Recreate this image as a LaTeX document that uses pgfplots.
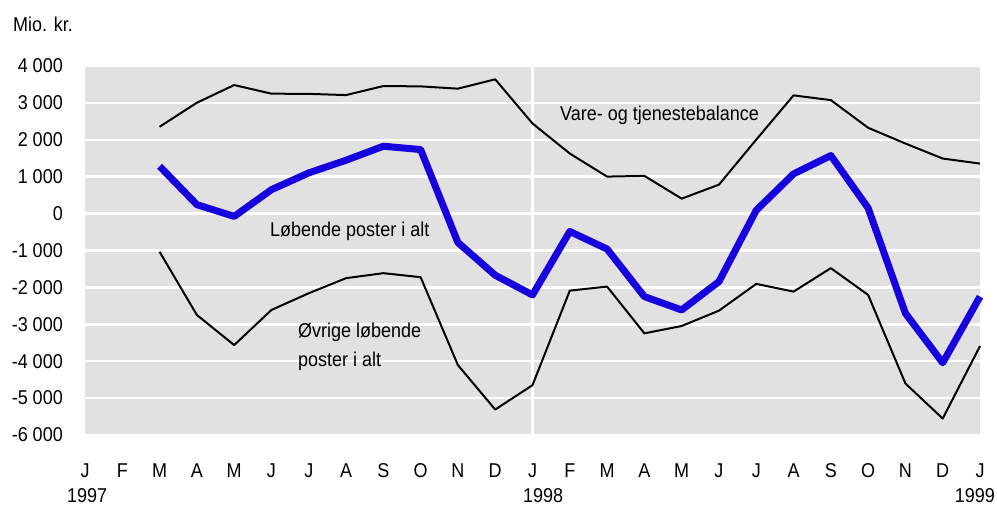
\documentclass[border=0pt]{standalone}
\usepackage{pgfplots}
\pgfplotsset{compat=1.18}
\usepackage{fontspec}
\setmainfont{Liberation Sans}[FakeStretch=0.9]
\definecolor{bg}{RGB}{225,225,225}
\definecolor{lineblue}{RGB}{22,0,222}
\newcommand{\lblfont}{\fontsize{20bp}{24bp}\selectfont}
\begin{document}
\lblfont
\begin{tikzpicture}
\useasboundingbox (0bp,0bp) rectangle (997bp,-508bp);
\begin{axis}[
  at={(85bp,-435bp)}, anchor=south west,
  width=895bp, height=369bp, scale only axis,
  xmin=0, xmax=24, ymin=-6000, ymax=4000,
  axis line style={draw=none},
  axis background/.style={fill=bg},
  xtick={0,...,24},
  xticklabels={J,F,M,A,M,J,J,A,S,O,N,D,J,F,M,A,M,J,J,A,S,O,N,D,J},
  ytick={-6000,-5000,-4000,-3000,-2000,-1000,0,1000,2000,3000,4000},
  yticklabels={{-6 000},{-5 000},{-4 000},{-3 000},{-2 000},{-1 000},{0},{1 000},{2 000},{3 000},{4 000}},
  major tick length=0pt,
  ymajorgrids,
  major grid style={white, line width=2.5bp},
  extra x ticks={12}, extra x tick labels={},
  extra x tick style={grid=major, major grid style={white, line width=2.5bp}},
  tick label style={font=\lblfont, inner sep=0pt},
  xticklabel style={anchor=base, yshift=-42bp},
  yticklabel style={anchor=east, xshift=-22bp},
  clip=false,
]
\addplot[black, line width=2bp, line join=round] coordinates {
(2,2353) (3,3005) (4,3484) (5,3250) (6,3245) (7,3212) (8,3457) (9,3448) (10,3386) (11,3639) (12,2443) (13,1628) (14,1003) (15,1022) (16,405) (17,785) (18,2005) (19,3204) (20,3076) (21,2326) (22,1899) (23,1492) (24,1356)};
\addplot[black, line width=2bp, line join=round] coordinates {
(2,-1035) (3,-2747) (4,-3563) (5,-2611) (6,-2158) (7,-1750) (8,-1614) (9,-1723) (10,-4106) (11,-5310) (12,-4649) (13,-2087) (14,-1978) (15,-3245) (16,-3046) (17,-2630) (18,-1905) (19,-2114) (20,-1478) (21,-2204) (22,-4604) (23,-5554) (24,-3590)};
\addplot[lineblue, line width=7bp, line join=round] coordinates {
(2,1283) (3,242) (4,-76) (5,649) (6,1103) (7,1446) (8,1826) (9,1736) (10,-783) (11,-1670) (12,-2204) (13,-484) (14,-960) (15,-2250) (16,-2611) (17,-1842) (18,90) (19,1076) (20,1573) (21,152) (22,-2701) (23,-4043) (24,-2250)};
\end{axis}
\node[anchor=base west, inner sep=0pt] at (13bp,-31bp) {Mio. kr.};
\node[anchor=base west, inner sep=0pt] at (560bp,-120bp) {Vare- og tjenestebalance};
\node[anchor=base west, inner sep=0pt] at (270bp,-236bp) {Løbende poster i alt};
\node[anchor=base west, inner sep=0pt] at (298bp,-337bp) {Øvrige løbende};
\node[anchor=base west, inner sep=0pt] at (298bp,-366bp) {poster i alt};
\node[anchor=base west, inner sep=0pt] at (67bp,-502bp) {1997};
\node[anchor=base west, inner sep=0pt] at (523bp,-502bp) {1998};
\node[anchor=base east, inner sep=0pt] at (995bp,-502bp) {1999};
\end{tikzpicture}
\end{document}
